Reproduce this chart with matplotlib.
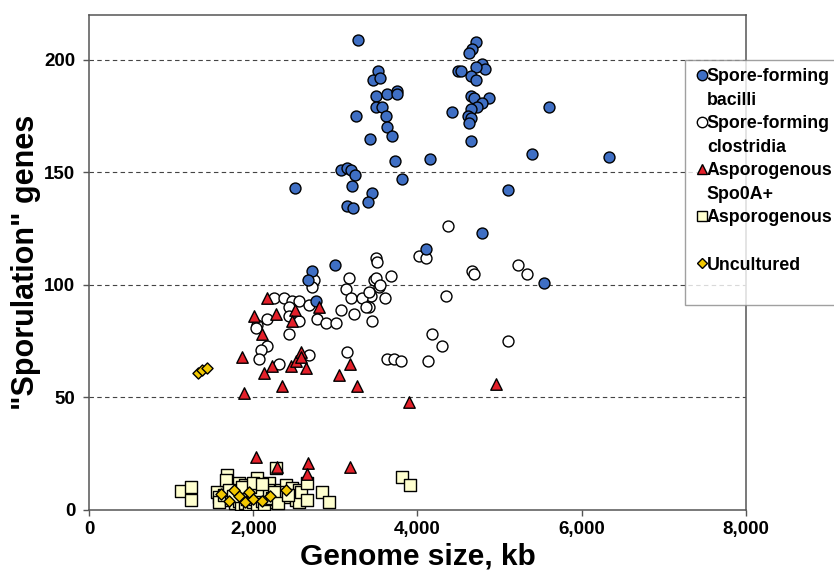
import matplotlib
matplotlib.use("Agg")
import matplotlib.pyplot as plt
from matplotlib.lines import Line2D
from matplotlib.ticker import FuncFormatter

plt.rcParams['font.family'] = ['Liberation Sans', 'DejaVu Sans']
plt.rcParams['font.weight'] = 'bold'

# Spore-forming bacilli
bacilli_kb = [3280, 3524, 3463, 3549, 3500, 3634, 3756, 3756, 3500, 3573, 3622, 3256, 3634, 3695, 3427,
              3732, 4159, 4427, 4500, 3073, 3146, 3195, 3244, 3207, 3817, 3451, 3402, 3146, 3220, 2512,
              4720, 4671, 4634, 4793, 4829, 4537, 4720, 4659, 4720, 4659, 4695, 4878, 4793, 4732, 4659,
              4622, 4659, 4634, 4659, 5402, 5598, 6341, 5098, 4110, 4793, 5537, 3000, 2720, 2671, 2768]
bacilli_genes = [209, 195, 191, 192, 184, 185, 186, 185, 179, 179, 175, 175, 170, 166, 165,
                 155, 156, 177, 195, 151, 152, 151, 149, 144, 147, 141, 137, 135, 134, 143,
                 208, 205, 203, 198, 196, 195, 197, 193, 191, 184, 183, 183, 181, 179, 178,
                 175, 174, 172, 164, 158, 179, 157, 142, 116, 123, 101, 109, 106, 102, 93]

# Spore-forming clostridia
clost_kb = [4378, 4024, 4110, 5220, 5341, 4671, 4695, 4354, 3500, 3512, 3683, 3476, 3537, 3610, 3439,
            3415, 3451, 4183, 4305, 5098, 3634, 3720, 3805, 4134, 3171, 2744, 2720, 3134, 3195, 3329,
            3415, 3500, 3549, 2256, 2378, 2476, 2561, 2683, 2439, 3073, 2780, 2890, 3012, 3232, 3378,
            2561, 2439, 2049, 2037, 2171, 2439, 2171, 2098, 3146, 2683, 2073, 2317]
clost_genes = [126, 113, 112, 109, 105, 106, 105, 95, 112, 110, 104, 102, 99, 94, 95,
               90, 84, 78, 73, 75, 67, 67, 66, 66, 103, 102, 99, 98, 94, 94,
               97, 103, 100, 94, 94, 93, 93, 91, 90, 89, 85, 83, 83, 87, 90,
               84, 86, 82, 81, 85, 78, 73, 71, 70, 69, 67, 65]

# Asporogenous Spo0A+
spo0a_kb = [2171, 2012, 2280, 2110, 2512, 2476, 2805, 1866, 2134, 2232, 2463, 2524, 2585, 2585, 2646,
            2354, 1890, 3049, 3183, 3268, 3902, 4963, 2037, 2671, 2659, 3183, 2293]
spo0a_genes = [94, 86, 87, 78, 89, 84, 90, 68, 61, 64, 64, 66, 70, 68, 63,
               55, 52, 60, 65, 55, 48, 56, 23.6, 21, 16, 19, 19]

# Asporogenous
aspo_kb = [1122, 1244, 1244, 1561, 1585, 1585, 1646, 1683, 1671, 1732, 1793, 1793, 1829, 1890, 1902,
           1915, 2037, 2049, 2110, 2195, 2195, 2256, 2280, 2341, 2378, 2402, 2402, 2476, 2524, 2561,
           2561, 2585, 2659, 2659, 2841, 2927, 3817, 3915,
           1780, 1800, 1830, 1850, 1870, 1900, 1920, 1950, 1980, 2000, 2020, 2050, 2080, 2100, 2130,
           2160, 2180, 2050, 1960, 1860, 2230, 2250, 1990, 2100, 1700, 1750, 2300, 2420]
aspo_genes = [8.4, 10.2, 4.4, 8, 5.8, 3.6, 6.7, 15.6, 13.3, 4.4, 8, 5.8, 12, 8, 11,
              4.4, 8, 14.2, 4.4, 12, 6.7, 3.6, 18.7, 8.9, 5.8, 11, 8, 9.8, 4.4, 8.9,
              3.6, 8, 12, 4.4, 8, 3.6, 14.7, 11,
              3, 6, 4, 2.5, 7, 3, 5, 2.5, 6, 3.5, 5, 2.5, 7, 4, 2.5,
              5, 9, 9, 10, 10, 5.5, 8, 12, 11.5, 9, 6, 3, 6.5]

# Uncultured
unc_kb = [1330, 1380, 1430, 1600, 1700, 1820, 1900, 2000, 2100, 1760, 1950, 2200, 2400]
unc_genes = [61, 62, 63, 7, 4, 6, 3.5, 5, 4, 9, 8, 6, 9]

fig = plt.figure(figsize=(8.34, 5.73), dpi=100)
ax = fig.add_axes([0.107, 0.110, 0.787, 0.864])

edge = dict(edgecolors='black', linewidths=1.0)
ax.scatter(clost_kb, clost_genes, s=62, marker='o', facecolors='white', zorder=3, **edge)
ax.scatter(bacilli_kb, bacilli_genes, s=62, marker='o', facecolors='#3F6FC4', zorder=4, **edge)
ax.scatter(aspo_kb, aspo_genes, s=68, marker='s', facecolors='#FFFFCF', zorder=3, **edge)
ax.scatter(unc_kb, unc_genes, s=32, marker='D', facecolors='#F2C800', zorder=4, **edge)
ax.scatter(spo0a_kb, spo0a_genes, s=68, marker='^', facecolors='#E4202A', zorder=5, **edge)

ax.set_xlim(0, 8000)
ax.set_ylim(0, 220)
ax.set_xticks([0, 2000, 4000, 6000, 8000])
ax.set_yticks([0, 50, 100, 150, 200])
ax.xaxis.set_major_formatter(FuncFormatter(lambda v, p: f"{int(v):,}"))
for y in [50, 100, 150, 200]:
    ax.axhline(y, color='#444444', lw=0.8, ls=(0, (4, 3)), zorder=1)

for sp in ax.spines.values():
    sp.set_color('#555555')
    sp.set_linewidth(1.1)
ax.tick_params(direction='out', length=4, width=1, color='#555555', labelsize=13.5)
ax.tick_params(axis='y', pad=6)
ax.tick_params(axis='x', pad=4)
ax.set_xlabel('Genome size, kb', fontsize=21.5, fontweight='bold', labelpad=3)
ax.set_ylabel('"Sporulation" genes', fontsize=22, fontweight='bold', labelpad=2)

# legend: first line carries the marker, second line has no handle
def mk(marker, fc, ms):
    return Line2D([], [], ls='', marker=marker, markerfacecolor=fc, markeredgecolor='black',
                  markeredgewidth=1.0, markersize=ms)

blank = Line2D([], [], ls='')
handles = [mk('o', '#3F6FC4', 7.5), blank, mk('o', 'white', 7.5), blank, mk('^', '#E4202A', 7.5), blank,
           mk('s', '#FFFFCF', 7.5), blank, mk('D', '#F2C800', 5.5), blank]
labels = ['Spore-forming', 'bacilli', 'Spore-forming', 'clostridia', 'Asporogenous', 'Spo0A+',
          'Asporogenous', ' ', 'Uncultured', ' ']
leg = fig.legend(handles, labels, loc='upper left', bbox_to_anchor=(685 / 834, 1 - 60 / 573),
                 bbox_transform=fig.transFigure, fontsize=12.8, frameon=True, fancybox=False,
                 edgecolor='#888888', borderpad=0.45, handlelength=1.0, handletextpad=-0.22,
                 labelspacing=0.37, borderaxespad=0)
leg.get_frame().set_linewidth(1.0)

fig.savefig('out.png', dpi=100)
